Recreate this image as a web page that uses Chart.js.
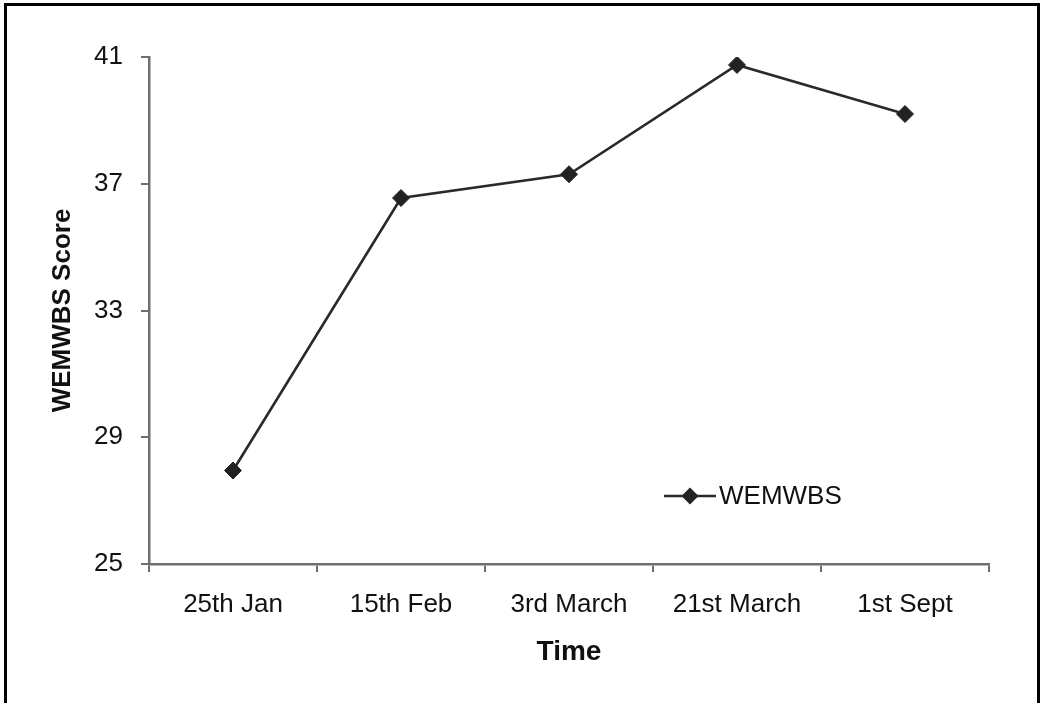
<!DOCTYPE html>
<html>
<head>
<meta charset="utf-8">
<script src="https://cdn.jsdelivr.net/npm/chart.js@4.4.1/dist/chart.umd.min.js"></script>
<style>
  html, body { margin: 0; padding: 0; background: #fff; overflow: hidden; }
  #wrap { position: absolute; left: 0; top: 0; width: 1041px; height: 703px; }
  #frame {
    position: absolute; left: 4px; top: 3px; width: 1030px; height: 720px;
    border: 3px solid #000; border-bottom: none; pointer-events: none;
  }
</style>
</head>
<body>
<div id="wrap">
  <canvas id="c" width="1041" height="703"></canvas>
  <div id="frame"></div>
</div>
<script>
// WEMWBS scores over time
const categories = ['25th Jan', '15th Feb', '3rd March', '21st March', '1st Sept'];
const wemwbs = [27.95, 36.55, 37.3, 40.75, 39.2];
const yTicks = [25, 29, 33, 37, 41];
const seriesName = 'WEMWBS';

const FONT = '"Liberation Sans", Arial, Helvetica, sans-serif';
const AXIS = '#6e6e6e';
const INK = '#2a2a2a';

// legend drawn inside the plot: line through a diamond, then the label
const insideLegend = {
  id: 'insideLegend',
  afterDraw(chart) {
    const { ctx, chartArea } = chart;
    const ds = chart.data.datasets[0];
    const x0 = chartArea.left + 515;
    const y = chartArea.top + 439;
    const r = ds.pointRadius;
    ctx.save();
    ctx.strokeStyle = ds.borderColor;
    ctx.lineWidth = ds.borderWidth;
    ctx.beginPath();
    ctx.moveTo(x0, y);
    ctx.lineTo(x0 + 52, y);
    ctx.stroke();
    ctx.fillStyle = ds.pointBackgroundColor;
    ctx.beginPath();
    ctx.moveTo(x0 + 26, y - r);
    ctx.lineTo(x0 + 26 + r, y);
    ctx.lineTo(x0 + 26, y + r);
    ctx.lineTo(x0 + 26 - r, y);
    ctx.closePath();
    ctx.fill();
    ctx.fillStyle = '#111';
    ctx.font = '26px ' + FONT;
    ctx.textBaseline = 'middle';
    ctx.textAlign = 'left';
    ctx.fillText(seriesName, x0 + 55, y + 1);
    ctx.restore();
  }
};

new Chart(document.getElementById('c'), {
  type: 'line',
  data: {
    labels: categories,
    datasets: [{
      label: seriesName,
      data: wemwbs,
      borderColor: INK,
      borderWidth: 2.6,
      pointStyle: 'rectRot',
      pointRadius: 8.5,
      pointBackgroundColor: '#222',
      pointBorderColor: '#222',
      pointBorderWidth: 1,
      tension: 0,
      fill: false
    }]
  },
  options: {
    responsive: false,
    animation: false,
    events: [],
    layout: { padding: { left: 0, top: 57, right: 52, bottom: 0 } },
    plugins: { legend: { display: false }, tooltip: { enabled: false } },
    scales: {
      x: {
        type: 'category',
        offset: true,
        grid: {
          offset: true, drawOnChartArea: false, drawTicks: true,
          tickLength: 8, color: AXIS, lineWidth: 2
        },
        border: { color: AXIS, width: 2.5 },
        ticks: { color: '#111', font: { family: FONT, size: 26 }, padding: 17, maxRotation: 0 },
        title: {
          display: true, text: 'Time', color: '#111',
          font: { family: FONT, size: 28, weight: 'bold' },
          padding: { top: 0, bottom: 34 }
        },
        afterFit(s) { s.height = 139; }
      },
      y: {
        min: 25, max: 41,
        afterBuildTicks(s) { s.ticks = yTicks.map(v => ({ value: v })); },
        grid: {
          drawOnChartArea: false, drawTicks: true,
          tickLength: 8, color: AXIS, lineWidth: 2
        },
        border: { color: AXIS, width: 2.5 },
        ticks: { color: '#111', font: { family: FONT, size: 26 }, padding: 18 },
        title: {
          display: true, text: 'WEMWBS Score', color: '#111',
          font: { family: FONT, size: 26, weight: 'bold' },
          padding: { top: 47, bottom: 0 }
        },
        afterFit(s) { s.width = 149; }
      }
    }
  },
  plugins: [insideLegend]
});
</script>
</body>
</html>
